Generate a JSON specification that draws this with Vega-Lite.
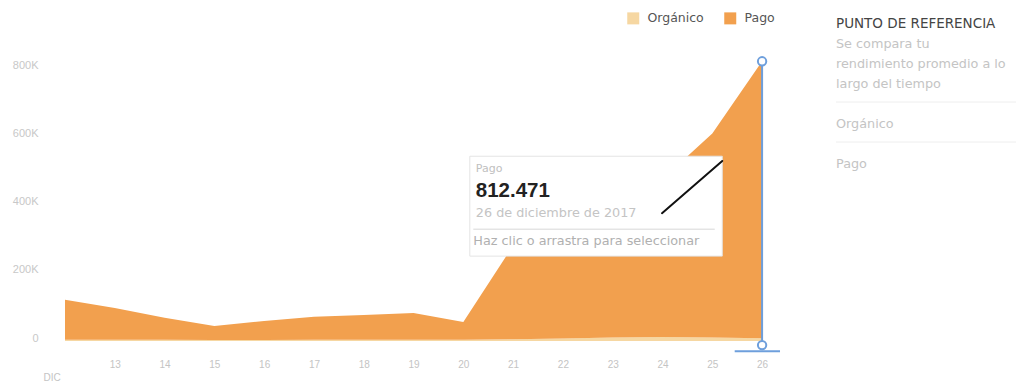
{
  "$schema": "https://vega.github.io/schema/vega-lite/v6.json",
  "background": "white",
  "padding": {"left": 12, "top": 12, "right": 0, "bottom": 0},
  "config": {"view": {"stroke": null}, "font": "Liberation Sans"},
  "spacing": 53,
  "datasets": {
    "alcance": [
      {"dia": 12, "serie": "Orgánico", "valor": 4000},
      {"dia": 13, "serie": "Orgánico", "valor": 4000},
      {"dia": 14, "serie": "Orgánico", "valor": 3500},
      {"dia": 15, "serie": "Orgánico", "valor": 3000},
      {"dia": 16, "serie": "Orgánico", "valor": 3000},
      {"dia": 17, "serie": "Orgánico", "valor": 3500},
      {"dia": 18, "serie": "Orgánico", "valor": 3500},
      {"dia": 19, "serie": "Orgánico", "valor": 4000},
      {"dia": 20, "serie": "Orgánico", "valor": 4000},
      {"dia": 21, "serie": "Orgánico", "valor": 5000},
      {"dia": 22, "serie": "Orgánico", "valor": 7000},
      {"dia": 23, "serie": "Orgánico", "valor": 10000},
      {"dia": 24, "serie": "Orgánico", "valor": 12000},
      {"dia": 25, "serie": "Orgánico", "valor": 10000},
      {"dia": 26, "serie": "Orgánico", "valor": 8000},
      {"dia": 12, "serie": "Pago", "valor": 117000},
      {"dia": 13, "serie": "Pago", "valor": 93000},
      {"dia": 14, "serie": "Pago", "valor": 64500},
      {"dia": 15, "serie": "Pago", "valor": 41000},
      {"dia": 16, "serie": "Pago", "valor": 56000},
      {"dia": 17, "serie": "Pago", "valor": 67500},
      {"dia": 18, "serie": "Pago", "valor": 72500},
      {"dia": 19, "serie": "Pago", "valor": 78000},
      {"dia": 20, "serie": "Pago", "valor": 52000},
      {"dia": 21, "serie": "Pago", "valor": 275000},
      {"dia": 22, "serie": "Pago", "valor": 317000},
      {"dia": 23, "serie": "Pago", "valor": 380000},
      {"dia": 24, "serie": "Pago", "valor": 463000},
      {"dia": 25, "serie": "Pago", "valor": 599000},
      {"dia": 26, "serie": "Pago", "valor": 812471}
    ]
  },
  "hconcat": [
    {
      "width": 717,
      "height": 300,
      "layer": [
        {
          "data": {"name": "alcance"},
          "mark": {"type": "area", "interpolate": "linear", "opacity": 1},
          "encoding": {
            "x": {
              "field": "dia", "type": "quantitative",
              "scale": {"domain": [12, 26.4], "nice": false, "zero": false},
              "axis": {
                "values": [12, 13, 14, 15, 16, 17, 18, 19, 20, 21, 22, 23, 24, 25, 26],
                "labelExpr": "datum.value == 12 ? ['', 'DIC'] : datum.value",
                "labelOffset": {"expr": "datum.value == 12 ? -22 : 0"},
                "labelColor": "#c4c4c4", "labelFontSize": 10, "labelPadding": 18,
                "labelLineHeight": 13,
                "domain": false, "ticks": false, "grid": false, "title": null
              }
            },
            "y": {
              "field": "valor", "type": "quantitative", "stack": "zero",
              "scale": {"domain": [0, 880000], "nice": false},
              "axis": {
                "values": [0, 200000, 400000, 600000, 800000],
                "labelExpr": "datum.value == 0 ? '0' : (datum.value / 1000) + 'K'",
                "labelColor": "#c8c8c8", "labelFontSize": 11, "labelPadding": 27,
                "labelBaseline": "alphabetic",
                "domain": false, "ticks": false, "grid": false, "title": null
              }
            },
            "color": {
              "field": "serie", "type": "nominal",
              "scale": {"domain": ["Orgánico", "Pago"], "range": ["#F6D7A2", "#F2A04E"]},
              "legend": {
                "orient": "none", "legendX": 562, "legendY": -29,
                "direction": "horizontal", "title": null,
                "symbolType": "square", "symbolSize": 144, "symbolOpacity": 1,
                "symbolStrokeWidth": 0,
                "labelFont": "DejaVu Sans",
                "labelFontSize": 12.5, "labelColor": "#555555", "columnPadding": 20,
                "labelOffset": 8
              }
            },
            "order": {"field": "serie", "sort": "ascending"}
          }
        },
        {
          "data": {"values": [{}]},
          "mark": {"type": "rule", "color": "#6E9FDC", "strokeWidth": 2},
          "encoding": {"x": {"datum": 26}, "y": {"datum": -12000}, "y2": {"datum": 820471}}
        },
        {
          "data": {"values": [{}]},
          "mark": {"type": "rule", "color": "#6E9FDC", "strokeWidth": 2},
          "encoding": {"x": {"datum": 25.45}, "x2": {"datum": 26.36}, "y": {"datum": -30000}}
        },
        {
          "data": {"values": [{"v": 820471}, {"v": -12000}]},
          "mark": {"type": "point", "shape": "circle", "filled": true, "fill": "white", "stroke": "#6E9FDC", "strokeWidth": 2, "size": 70, "opacity": 1},
          "encoding": {"x": {"datum": 26}, "y": {"field": "v", "type": "quantitative"}}
        },
        {
          "data": {"values": [{}]},
          "mark": {"type": "rect", "fill": "white", "stroke": "#e4e4e4", "strokeWidth": 1},
          "encoding": {"x": {"datum": 20.13}, "x2": {"datum": 25.2}, "y": {"datum": 542000}, "y2": {"datum": 249000}}
        },
        {
          "data": {"values": [{"texto": "Pago"}]},
          "mark": {"type": "text", "align": "left", "baseline": "middle", "font": "DejaVu Sans", "fontSize": 11, "color": "#c0c0c0"},
          "encoding": {"x": {"datum": 20.25}, "y": {"datum": 504000}, "text": {"field": "texto"}}
        },
        {
          "data": {"values": [{"texto": "812.471"}]},
          "mark": {"type": "text", "align": "left", "baseline": "middle", "fontSize": 20.5, "fontWeight": "bold", "color": "#222222"},
          "encoding": {"x": {"datum": 20.25}, "y": {"datum": 440000}, "text": {"field": "texto"}}
        },
        {
          "data": {"values": [{"texto": "26 de diciembre de 2017"}]},
          "mark": {"type": "text", "align": "left", "baseline": "middle", "font": "DejaVu Sans", "fontSize": 12.8, "color": "#c4c4c4"},
          "encoding": {"x": {"datum": 20.25}, "y": {"datum": 375000}, "text": {"field": "texto"}}
        },
        {
          "data": {"values": [{}]},
          "mark": {"type": "rule", "color": "#d8d8d8", "strokeWidth": 1},
          "encoding": {"x": {"datum": 20.2}, "x2": {"datum": 25.05}, "y": {"datum": 328000}}
        },
        {
          "data": {"values": [{"texto": "Haz clic o arrastra para seleccionar"}]},
          "mark": {"type": "text", "align": "left", "baseline": "middle", "font": "DejaVu Sans", "fontSize": 12.8, "color": "#b0b0b0"},
          "encoding": {"x": {"datum": 20.2}, "y": {"datum": 293000}, "text": {"field": "texto"}}
        },
        {
          "data": {"values": [{}]},
          "mark": {"type": "rule", "color": "#111111", "strokeWidth": 2, "strokeCap": "round"},
          "encoding": {"x": {"datum": 23.99}, "x2": {"datum": 25.2}, "y": {"datum": 375000}, "y2": {"datum": 528000}}
        }
      ]
    },
    {
      "width": 180,
      "height": 160,
      "layer": [
        {
          "data": {"values": [{"texto": "PUNTO DE REFERENCIA", "linea": 0}]},
          "mark": {"type": "text", "align": "left", "baseline": "middle", "font": "DejaVu Sans", "fontSize": 13.5, "color": "#444444"},
          "encoding": {
            "x": {"datum": 0, "scale": {"domain": [0, 1]}, "axis": null},
            "y": {"field": "linea", "type": "quantitative", "scale": {"domain": [0.85, 8.85], "reverse": true, "nice": false, "zero": false}, "axis": null},
            "text": {"field": "texto"}
          }
        },
        {
          "data": {"values": [
            {"texto": "Se compara tu", "linea": 1},
            {"texto": "rendimiento promedio a lo", "linea": 2},
            {"texto": "largo del tiempo", "linea": 3},
            {"texto": "Orgánico", "linea": 5},
            {"texto": "Pago", "linea": 7}
          ]},
          "mark": {"type": "text", "align": "left", "baseline": "middle", "font": "DejaVu Sans", "fontSize": 12.8, "color": "#c4c4c4"},
          "encoding": {
            "x": {"datum": 0},
            "y": {"field": "linea", "type": "quantitative"},
            "text": {"field": "texto"}
          }
        },
        {
          "data": {"values": [{"linea": 3.9}, {"linea": 5.9}]},
          "mark": {"type": "rule", "color": "#eeeeee", "strokeWidth": 1},
          "encoding": {
            "x": {"datum": 0}, "x2": {"datum": 1},
            "y": {"field": "linea", "type": "quantitative"}
          }
        }
      ]
    }
  ]
}
